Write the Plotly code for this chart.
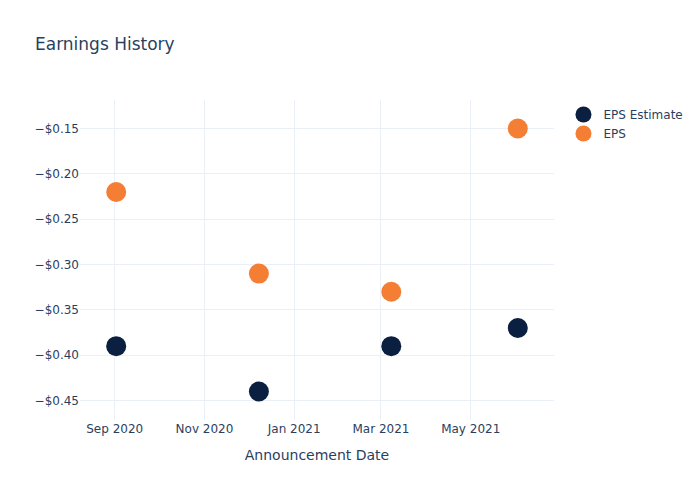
import plotly.graph_objects as go

dates = ["2020-09-02", "2020-12-08", "2021-03-08", "2021-06-02"]
eps_estimate = [-0.39, -0.44, -0.39, -0.37]
eps_actual = [-0.22, -0.31, -0.33, -0.15]

fig = go.Figure()
fig.add_trace(go.Scatter(x=dates, y=eps_estimate, mode="markers", name="EPS Estimate",
                         marker=dict(size=20, color="#0b1f40")))
fig.add_trace(go.Scatter(x=dates, y=eps_actual, mode="markers", name="EPS",
                         marker=dict(size=20, color="#f57e35")))
fig.update_layout(
    template="plotly_white",
    width=700, height=500,
    font=dict(family="DejaVu Sans"),
    title=dict(text="Earnings History"),
    xaxis=dict(title=dict(text="Announcement Date")),
    yaxis=dict(tickformat="$.2f"),
)
fig.write_html("out.html")
